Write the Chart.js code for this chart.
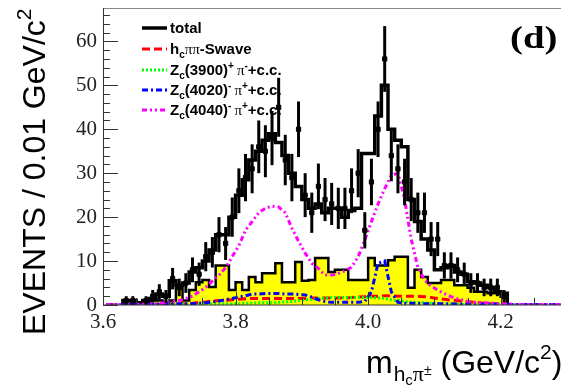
<!DOCTYPE html>
<html>
<head>
<meta charset="utf-8">
<script src="https://cdn.jsdelivr.net/npm/chart.js@4.4.1/dist/chart.umd.min.js"></script>
<style>
  html, body { margin: 0; padding: 0; background: #fff; }
  canvas { display: block; }
</style>
</head>
<body>
<canvas id="myChart" width="566" height="385"></canvas>
<script>
// m(hc pi) spectrum, 0.01 GeV bins starting at 3.60
var binStart = 3.6;
var binWidth = 0.01;

// fit total (black histogram)
var totalFit = [0, 0, 0, 1, 1, 0.5, 1, 1.5, 2.5, 2,
  5.5, 4.5, 5, 7.5, 8.5, 10, 12.5, 16, 16, 20,
  25, 28.5, 33, 35, 37.5, 39, 37, 34, 30, 27,
  24, 22, 23, 21, 22, 22, 20, 21.5, 22, 34.5,
  34.5, 43, 50, 40, 37.5, 36, 24, 19, 15, 12.5,
  8, 8.5, 9, 7.5, 7, 5.3, 5, 4.5, 4, 3,
  2.7, 0, 0, 0, 0, 0, 0, 0, 0, 0];

// data points
var dataCounts = [0, 0, 0, 1, 1, 0, 1, 2, 3, 2,
  6, 4, 5, 8, 7, 11, 12, 16, 14, 20,
  26, 29, 31, 36, 35, 38, 45, 33, 29, 40,
  25, 21, 27, 24, 23, 22, 22, 26, 30, 17,
  28, 40, 56, 34, 31, 28, 24, 21, 21, 15,
  15, 9, 9, 8, 7, 5, 5, 4, 4, 4,
  2, 0, 0, 0, 0, 0, 0, 0, 0, 0];

// yellow background histogram
var background = [0, 0, 0, 0, 0.3, 0.5, 0.5, 1, 1, 0.5,
  1, 4.5, 1, 3.4, 5.2, 5.7, 4.1, 9, 9, 3.4,
  5.2, 3.4, 6.4, 5.2, 7.2, 7.2, 9.5, 5.2, 5.2, 9.8,
  5.5, 5.7, 10.7, 10.7, 7.5, 8, 8, 5.7, 5.7, 5.7,
  10.7, 9, 9, 10.2, 11, 11, 3.9, 8, 6.4, 5,
  5, 5.7, 5.7, 4.5, 4.5, 3.9, 3, 3, 2.7, 2.7,
  1.9, 0, 0, 0, 0, 0, 0, 0, 0, 0];

// fit components (bin centres)
var zc4040 = [0.1, 0.1, 0.1, 0.2, 0.2, 0.2, 0.3, 0.3, 0.4, 0.6,
  0.8, 1, 1.5, 2, 3, 4, 5.5, 6.8, 8.5, 11,
  13.5, 17, 19, 21, 22, 22.5, 22.3, 21, 17.5, 14.5,
  11.8, 9.5, 8.3, 6.8, 6.8, 7.2, 7.8, 8.6, 11, 14.8,
  19, 23, 26.5, 29.5, 30, 24, 15, 8.6, 5.7, 4.3,
  3.4, 2.6, 1.9, 1.4, 1, 0.7, 0.6, 0.5, 0.4, 0.3,
  0.3, 0.2, 0.1, 0.1, 0.1, 0.1, 0.1, 0.1, 0.1, 0.1];
var swave = [0.05, 0.05, 0.05, 0.05, 0.05, 0.05, 0.05, 0.05, 0.1, 0.1,
  0.2, 0.2, 0.3, 0.4, 0.6, 0.7, 0.9, 1, 1.1, 1.2,
  1.3, 1.4, 1.5, 1.5, 1.5, 1.5, 1.5, 1.5, 1.5, 1.5,
  1.5, 1.6, 1.6, 1.6, 1.6, 1.6, 1.6, 1.7, 1.8, 1.9,
  2, 2, 2.1, 2.1, 2, 2, 2, 2, 1.9, 1.7,
  1.5, 1.3, 1.1, 1, 0.8, 0.7, 0.5, 0.4, 0.3, 0.2,
  0.1, 0.05, 0, 0, 0, 0, 0, 0, 0, 0];
var zc3900 = [0, 0, 0, 0, 0, 0, 0, 0, 0, 0,
  0.05, 0.1, 0.1, 0.1, 0.2, 0.2, 0.2, 0.3, 0.3, 0.3,
  0.3, 0.4, 0.4, 0.5, 0.5, 0.5, 0.6, 0.7, 0.8, 1,
  1.2, 1.3, 1.5, 1.6, 1.7, 1.7, 1.7, 1.7, 1.7, 1.7,
  1.7, 1.6, 1.5, 1.2, 1, 0.8, 0.6, 0.5, 0.5, 0.4,
  0.3, 0.3, 0.2, 0.2, 0.1, 0.1, 0.1, 0.05, 0.05, 0.05,
  0, 0, 0, 0, 0, 0, 0, 0, 0, 0];
var zc4020 = [0.1, 0.1, 0.1, 0.1, 0.1, 0.1, 0.2, 0.2, 0.2, 0.2,
  0.3, 0.3, 0.3, 0.3, 0.4, 0.5, 0.7, 0.9, 1.2, 1.5,
  1.8, 2.1, 2.5, 2.5, 2.6, 2.6, 2.6, 2.5, 2.5, 2.4,
  2.3, 1.8, 1.2, 0.8, 0.6, 0.6, 0.6, 0.6, 0.6, 0.8,
  3, 9.5, 10, 3, 0.6, 0.4, 0.4, 0.4, 0.3, 0.3,
  0.3, 0.3, 0.3, 0.2, 0.2, 0.2, 0.2, 0.2, 0.2, 0.2,
  0.1, 0.1, 0.1, 0.1, 0.1, 0.1, 0.1, 0.1, 0.1, 0.1];

var xTickValues = [3.6, 3.8, 4.0, 4.2];
var xTickLabels = ["3.6", "3.8", "4.0", "4.2"];
var yTickValues = [0, 10, 20, 30, 40, 50, 60];

function edge(i) { return binStart + binWidth * i; }
function centre(i) { return binStart + binWidth * (i + 0.5); }

function histPoints(vals) {
  var first = vals.findIndex(function (v) { return v > 0; });
  var last = vals.length - 1;
  while (last >= 0 && !(vals[last] > 0)) last--;
  var pts = [{ x: edge(first), y: 0 }];
  for (var i = first; i <= last; i++) pts.push({ x: edge(i), y: vals[i] });
  pts.push({ x: edge(last + 1), y: vals[last] });
  pts.push({ x: edge(last + 1), y: 0 });
  return pts;
}
function curvePoints(vals) {
  return vals.map(function (v, i) { return { x: centre(i), y: v }; });
}
function pointData(vals) {
  var pts = [];
  vals.forEach(function (v, i) { if (v > 0) pts.push({ x: centre(i), y: v }); });
  return pts;
}

// draws a run of text pieces (for sub/superscripts)
function drawRich(ctx, x, y, parts) {
  parts.forEach(function (p) {
    ctx.font = p.f;
    ctx.fillText(p.t, x, y + (p.dy || 0));
    x += ctx.measureText(p.t).width + (p.gap || 0);
  });
  return x;
}

var B = "bold 15px 'Liberation Sans', Arial, sans-serif";
var Bs = "bold 10px 'Liberation Sans', Arial, sans-serif";
var P = "15px 'Liberation Serif', 'Times New Roman', serif";

var legendRows = [
  { color: "#000000", dash: [], width: 3.5, parts: [{ t: "total", f: B }] },
  { color: "#ff0000", dash: [8, 4], width: 3, parts: [{ t: "h", f: B }, { t: "c", f: Bs, dy: 4 }, { t: "ππ", f: P }, { t: "-Swave", f: B }] },
  { color: "#00ff00", dash: [2, 2], width: 3, parts: [{ t: "Z", f: B }, { t: "c", f: Bs, dy: 4 }, { t: "(3900)", f: B }, { t: "+", f: Bs, dy: -6, gap: 3 }, { t: "π", f: P }, { t: "-", f: Bs, dy: -6 }, { t: "+c.c.", f: B }] },
  { color: "#0000ff", dash: [6, 3, 2, 3], width: 3, parts: [{ t: "Z", f: B }, { t: "c", f: Bs, dy: 4 }, { t: "(4020)", f: B }, { t: "-", f: Bs, dy: -6, gap: 3 }, { t: "π", f: P }, { t: "+", f: Bs, dy: -6 }, { t: "+c.c.", f: B }] },
  { color: "#ff00ff", dash: [5, 3, 2, 3, 2, 3], width: 3, parts: [{ t: "Z", f: B }, { t: "c", f: Bs, dy: 4 }, { t: "(4040)", f: B }, { t: "-", f: Bs, dy: -6, gap: 3 }, { t: "π", f: P }, { t: "+", f: Bs, dy: -6 }, { t: "+c.c.", f: B }] }
];
var legendY = [28, 49, 70, 90, 110];

var decorations = {
  id: "decorations",
  beforeDatasetsDraw: function (chart) {
    var ctx = chart.ctx;
    ctx.save();
    legendRows.forEach(function (row, k) {
      var y = legendY[k];
      ctx.strokeStyle = row.color;
      ctx.lineWidth = row.width;
      ctx.setLineDash(row.dash);
      ctx.beginPath();
      ctx.moveTo(142, y);
      ctx.lineTo(167, y);
      ctx.stroke();
      ctx.setLineDash([]);
      ctx.fillStyle = "#000";
      ctx.textBaseline = "alphabetic";
      drawRich(ctx, 170, y + 5, row.parts);
    });
    ctx.restore();
  },
  afterDatasetsDraw: function (chart) {
    var ctx = chart.ctx;
    var xs = chart.scales.x, ys = chart.scales.y;
    var a = chart.chartArea;
    ctx.save();

    // error bars
    ctx.strokeStyle = "#000";
    ctx.lineWidth = 3;
    dataCounts.forEach(function (n, i) {
      if (!(n > 0)) return;
      var e = Math.sqrt(n);
      var xc = xs.getPixelForValue(centre(i));
      ctx.beginPath();
      ctx.moveTo(xc, ys.getPixelForValue(n + e));
      ctx.lineTo(xc, ys.getPixelForValue(Math.max(0, n - e)));
      ctx.stroke();
    });

    // frame
    ctx.lineWidth = 1;
    ctx.strokeStyle = "#888";
    ctx.beginPath();
    ctx.moveTo(a.left, a.top + 0.5);
    ctx.lineTo(a.right, a.top + 0.5);
    ctx.stroke();
    ctx.strokeStyle = "#333";
    ctx.beginPath();
    ctx.moveTo(a.left + 0.5, a.top);
    ctx.lineTo(a.left + 0.5, a.bottom);
    ctx.lineTo(a.right, a.bottom);
    ctx.stroke();

    // y ticks
    ctx.beginPath();
    for (var v = 0; v <= 66; v += 2) {
      var py = Math.round(ys.getPixelForValue(v)) + 0.5;
      var len = v % 10 === 0 ? 15 : 7;
      ctx.moveTo(a.left, py);
      ctx.lineTo(a.left + len, py);
    }
    // x ticks
    for (var k = 0; k <= 14; k++) {
      var xv = 3.6 + 0.05 * k;
      if (xv > xs.max) break;
      var px = Math.round(xs.getPixelForValue(xv)) + 0.5;
      var l2 = k % 4 === 0 ? 13 : 7;
      ctx.moveTo(px, a.bottom);
      ctx.lineTo(px, a.bottom - l2);
    }
    ctx.stroke();

    // tick labels
    ctx.fillStyle = "#222";
    ctx.font = "21px 'Liberation Serif', 'Times New Roman', serif";
    ctx.textAlign = "right";
    ctx.textBaseline = "middle";
    yTickValues.forEach(function (t) {
      ctx.fillText(String(t), 97, ys.getPixelForValue(t));
    });
    ctx.textAlign = "center";
    xTickValues.forEach(function (t, j) {
      ctx.fillText(xTickLabels[j], xs.getPixelForValue(t), 322);
    });

    // panel tag
    ctx.fillStyle = "#000";
    ctx.textAlign = "left";
    ctx.textBaseline = "alphabetic";
    ctx.save();
    ctx.translate(510, 48);
    ctx.scale(1.25, 1);
    ctx.font = "bold 31px 'Liberation Serif', serif";
    ctx.fillText("(d)", 0, 0);
    ctx.restore();

    // x title
    var S = "32px 'Liberation Sans', Arial, sans-serif";
    drawRich(ctx, 366, 373, [
      { t: "m", f: S, gap: 1 },
      { t: "h", f: "21px 'Liberation Sans', Arial, sans-serif", dy: 8 },
      { t: "c", f: "15px 'Liberation Sans', Arial, sans-serif", dy: 12 },
      { t: "π", f: "22px 'Liberation Serif', serif", dy: 8 },
      { t: "±", f: "14px 'Liberation Sans', Arial, sans-serif", dy: 2 },
      { t: " (GeV/c", f: S },
      { t: "2", f: "21px 'Liberation Sans', Arial, sans-serif", dy: -14 },
      { t: ")", f: S }
    ]);

    // y title
    ctx.translate(45, 335);
    ctx.rotate(-Math.PI / 2);
    drawRich(ctx, 0, 0, [
      { t: "EVENTS / 0.01 GeV/c", f: S },
      { t: "2", f: "21px 'Liberation Sans', Arial, sans-serif", dy: -14 }
    ]);
    ctx.restore();
  }
};

new Chart("myChart", {
  type: "line",
  data: {
    datasets: [
      {
        label: "data",
        type: "scatter",
        data: pointData(dataCounts),
        pointStyle: "rect",
        pointRadius: 3,
        backgroundColor: "#000",
        borderColor: "#000",
        showLine: false,
        order: 1
      },
      {
        label: "Zc(4040)",
        data: curvePoints(zc4040),
        borderColor: "#ff00ff",
        borderWidth: 3,
        borderDash: [5, 3, 2, 3, 2, 3],
        pointRadius: 0,
        order: 2
      },
      {
        label: "Zc(4020)",
        data: curvePoints(zc4020),
        borderColor: "#0000ff",
        borderWidth: 3,
        borderDash: [6, 3, 2, 3],
        pointRadius: 0,
        order: 3
      },
      {
        label: "Zc(3900)",
        data: curvePoints(zc3900),
        borderColor: "#00ff00",
        borderWidth: 3,
        borderDash: [2, 2],
        pointRadius: 0,
        order: 4
      },
      {
        label: "hc pi pi S-wave",
        data: curvePoints(swave),
        borderColor: "#ff0000",
        borderWidth: 3,
        borderDash: [8, 4],
        pointRadius: 0,
        order: 5
      },
      {
        label: "total",
        data: histPoints(totalFit),
        borderColor: "#000",
        borderWidth: 3.5,
        stepped: "before",
        pointRadius: 0,
        fill: false,
        order: 8
      },
      {
        label: "background",
        data: histPoints(background),
        borderColor: "#000",
        backgroundColor: "#ffff00",
        borderWidth: 2.5,
        stepped: "before",
        pointRadius: 0,
        fill: "origin",
        order: 9
      }
    ]
  },
  options: {
    responsive: false,
    animation: false,
    devicePixelRatio: 1,
    layout: { padding: { left: 103, top: 8, right: 0, bottom: 80 } },
    scales: {
      x: { type: "linear", min: 3.6, max: 4.291, display: false },
      y: { type: "linear", min: 0, max: 67.6, display: false }
    },
    plugins: {
      legend: { display: false },
      tooltip: { enabled: false }
    }
  },
  plugins: [decorations]
});
</script>
</body>
</html>
